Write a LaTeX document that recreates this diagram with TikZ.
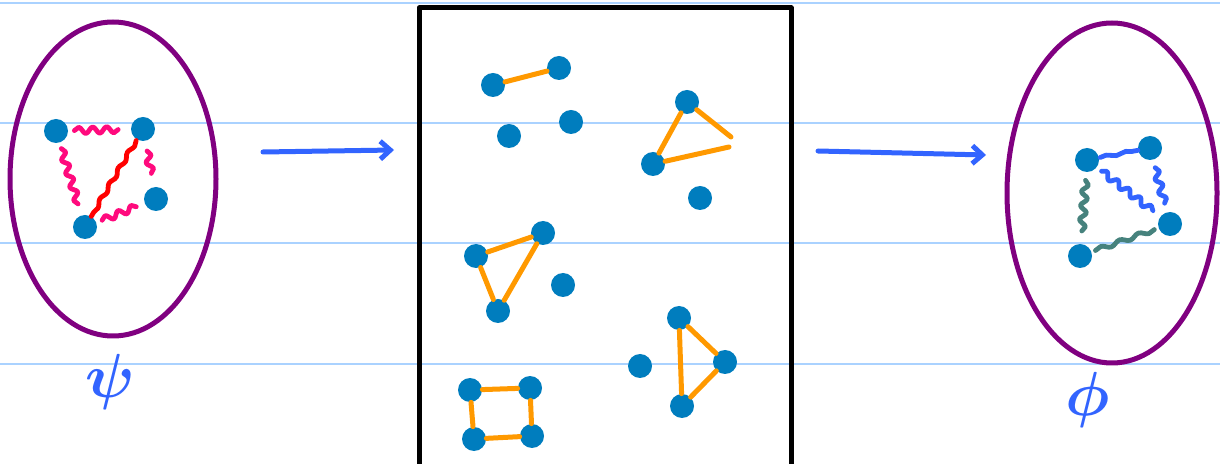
\documentclass[tikz,border=0pt]{standalone}
\usetikzlibrary{arrows.meta,decorations.pathmorphing}

\definecolor{ruleblue}{RGB}{170,210,255}
\definecolor{ovalpurple}{RGB}{128,0,128}
\definecolor{dotblue}{RGB}{0,125,190}
\definecolor{inkblue}{RGB}{50,100,255}
\definecolor{bondpink}{RGB}{255,10,125}
\definecolor{bondred}{RGB}{255,0,0}
\definecolor{bondteal}{RGB}{70,130,125}
\definecolor{bondorange}{RGB}{255,153,0}

\tikzset{
  dot/.style={circle,fill=dotblue,minimum size=12pt,inner sep=0pt},
  wiggle/.style={decorate,line width=2.4pt,
    decoration={snake,segment length=7pt,amplitude=1.6pt,
      pre=moveto,pre length=#1,post=moveto,post length=#1}},
  wiggle/.default=3pt,
  bond/.style={bondorange,line width=2.5pt},
  greek/.style={inkblue,scale=1.25,font=\Huge\boldmath},
}

\begin{document}
\begin{tikzpicture}[
    x=0.5pt,y=-0.5pt,
    >={Straight Barb[length=5pt,width=9pt]},
    line cap=round,
    line join=round,
]
\useasboundingbox (0,0) rectangle (1220,464);
% ruled paper
\foreach \y in {3,123,243,364}
  \draw[ruleblue,line width=1pt] (0,\y) -- (1220,\y);

% left oval
\draw[ovalpurple,line width=2.5pt] (113,179) ellipse [x radius=103, y radius=157];
\node[dot] (l1) at (56,131) {};
\node[dot] (l2) at (143,129) {};
\node[dot] (l3) at (156,199) {};
\node[dot] (l4) at (85,227) {};
\draw[bondpink,wiggle] (l1) -- (l2);
\draw[bondpink,wiggle] (l1) -- (l4);
\draw[bondpink,wiggle=5pt] (l2) -- (l3);
\draw[bondpink,wiggle] (l4) -- (l3);
\draw[bondred,wiggle=0.5pt,decoration={amplitude=0.8pt,segment length=9pt}] (l2) -- (l4);
\node[greek] (psi) at (110,382) {$\psi$};

% arrows
\coordinate (a1) at (263,152);
\coordinate (a2) at (394,150);
\coordinate (b1) at (818,151);
\coordinate (b2) at (986,155);
\draw[->,inkblue,line width=2.5pt] (a1) -- (a2);
\draw[->,inkblue,line width=2.5pt] (b1) -- (b2);

% box
\draw[line width=2.5pt] (419,480) -- (419,8) -- (791,8) -- (791,480);
% pair
\node[dot] (p1) at (493,85) {};
\node[dot] (p2) at (559,68) {};
\draw[bond] (p1) -- (p2);
% singles
\node[dot] (s1) at (509,136) {};
\node[dot] (s2) at (571,122) {};
\node[dot] (s3) at (700,198) {};
\node[dot] (s4) at (563,285) {};
\node[dot] (s5) at (640,366) {};
% open triangle
\node[dot] (t1) at (687,102) {};
\node[dot] (t2) at (653,164) {};
\coordinate (t3) at (731,137);
\coordinate (t4) at (729,147);
\draw[bond] (t1) -- (t2) -- (t4);
\draw[bond] (t1) -- (t3);
% triangle
\node[dot] (u1) at (543,233) {};
\node[dot] (u2) at (476,256) {};
\node[dot] (u3) at (498,311) {};
\draw[bond] (u1) -- (u2) (u2) -- (u3) (u3) -- (u1);
% triangle
\node[dot] (v1) at (679,318) {};
\node[dot] (v2) at (725,362) {};
\node[dot] (v3) at (682,406) {};
\draw[bond] (v1) -- (v2) (v2) -- (v3) (v3) -- (v1);
% square
\node[dot] (q1) at (470,390) {};
\node[dot] (q2) at (530,388) {};
\node[dot] (q3) at (532,436) {};
\node[dot] (q4) at (474,439) {};
\draw[bond] (q1) -- (q2) (q2) -- (q3) (q3) -- (q4) (q4) -- (q1);

% right oval
\draw[ovalpurple,line width=2.5pt] (1112,193) ellipse [x radius=105, y radius=170];
\node[dot] (r1) at (1087,160) {};
\node[dot] (r2) at (1150,148) {};
\node[dot] (r3) at (1170,224) {};
\node[dot] (r4) at (1080,256) {};
\draw[inkblue,wiggle=0.5pt,decoration={amplitude=0.6pt,segment length=10pt}] (r1) -- (r2);
\draw[inkblue,wiggle] (r1) -- (r3);
\draw[inkblue,wiggle=4pt] (r2) -- (r3);
\draw[bondteal,wiggle=4pt] (r1) -- (r4);
\draw[bondteal,wiggle=2pt,decoration={amplitude=1pt,segment length=10pt}] (r4) -- (r3);
\node[greek] (phi) at (1088,400) {$\phi$};
\end{tikzpicture}
\end{document}
